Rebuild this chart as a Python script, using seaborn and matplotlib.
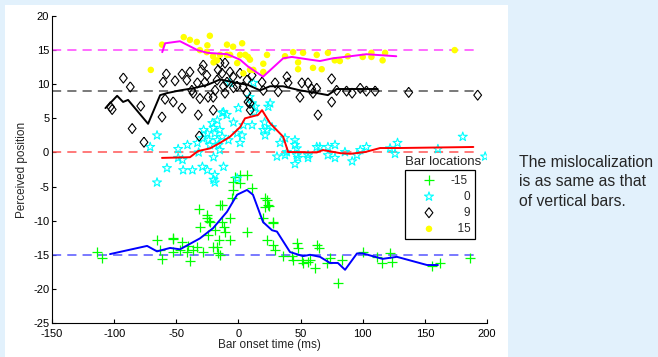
import matplotlib
matplotlib.use("Agg")
import matplotlib.pyplot as plt
import seaborn as sns
import pandas as pd
from matplotlib.patches import Rectangle

# ---------------- data ----------------
bar_locations = [-15, 0, 9, 15]
bar_labels = ["-15", "0", "9", "15"]
dash_range = [-150, 190]

g_x = [-114, -110, -65.5, -61.5, -63, -52.6, -52.6, -45, -47, -40.5,
       -39, -41, -36.5, -33, -31.5, -31, -28.5, -25.5, -24.5, -23,
       -20.4, -19, -16.3, -15, -16, -13, -12, -11, -6.7, -6.7,
       -4, -4, -5, 1.3, 6.8,
       -53, -25, -24, -17.5, -15, -13, 1.3, 6.9, -2.7,
       23, 24, 28, 23, 28, 29.5,
       11, 21.5, 21.5, 25, 20, 28, 36, 44, 43, 47,
       48, 51, 52, 56, 57.6, 61.6, 63, 65, 73.7, 71,
       83, 80, 100, 111.5, 115.5, 122, 123.5, 155.7, 162, 186]
g_y = [-14.6, -15.5, -12.8, -15.6, -14.3, -12.7, -14.6, -13.1, -14.3, -13.7,
       -15.9, -14.6, -14.3, -13.8, -8.3, -10.9, -14.6, -9.6, -12.1, -10.2,
       -13.8, -11.4, -14.8, -7.7, -12.9, -10.2, -10.9, -11.7, -12.9, -9.6,
       -4.4, -5.5, -6.7, -4.5, -11.7,
       -12.6, -9.2, -10.0, -13.8, -15.0, -7.7, -3.3, -3.3, -3.6,
       -7.0, -7.7, -10.2, -12.9, -13.6, -14.3,
       -5.2, -6.7, -8.0, -7.9, -9.6, -10.4, -15.2, -15.8, -15.2, -13.3,
       -14.0, -15.8, -16.2, -16.0, -15.8, -17.0, -13.6, -14.0, -15.5, -16.2,
       -15.8, -19.2, -14.6, -15.3, -16.2, -14.8, -16.0, -16.7, -16.2, -15.5]

c_x = [-45, -44.5, -37, -41, -33, -32, -29, -25, -29, -28,
       -25, -24, -23, -21, -20, -19, -17, -16, -15, -20,
       -17, -15, -13, -12, -13, -20, -19, -12, -8, 0,
       -4, -1, 3, 1.3, 4, 11, 13, 23, 21, 25.5,
       24, 33.5, 37.5, 31, 39,
       -71, -65.5, -48.5, -9.4, -7, -48.5, -57.5, -65.5, -19, -1,
       12, 9, 13.5, 11, 20, 21.5, 27, 45.5, 45.5, 47,
       37.5, 47, 48, 45.5, 56, 56, 63, 65.5, 72, 77.7,
       72, 77.7, 85.7, 91.5, 95.3, 98, 103, 122, 126, 128,
       160.5, 180.5, 198.5]
c_y = [-1.1, -2.6, -2.6, 1.1, 1.4, 0.0, -2.1, -2.6, 2.1, 3.3,
       2.8, 1.8, 1.1, 4.3, 3.6, 2.8, 1.8, 1.1, 0.35, -0.7,
       4.7, 3.3, 5.8, 5.9, 2.3, -4.0, -3.3, -2.1, 1.8, 6.5,
       4.4, 2.8, 2.5, 1.4, 4.0, 7.2, 5.9, 3.3, 4.4, 7.2,
       6.7, 1.4, 2.1, -0.6, 0.05,
       0.8, 2.5, 0.5, 5.5, 10.2, -0.8, -2.3, -4.4, -4.4, -3.8,
       10.2, 8.1, 6.7, 4.0, 3.3, 2.5, 3.7, 1.8, 1.1, 0.6,
       -0.4, -0.4, -0.8, -1.7, -0.4, -0.8, 0.8, 0.8, 0.8, 1.1,
       -0.4, -0.8, 0.06, -1.3, -0.4, 0.35, 0.8, 0.6, -0.2, 1.4,
       0.5, 2.3, -0.6]

k_x = [-92.6, -87, -103, -101.6, -85.5, -78.6, -76, -61.5, -60.6, -58,
       -59, -52.5, -51, -45.4, -45.4, -41.5, -39, -37.5, -36.5, -33,
       -32.3, -31.5, -31, -29.6, -28.3, -25.4, -27, -24.4, -20.3, -20.3,
       -18.8, -17.2, -16.3, -14.8, -13.2, -12.1, -10.8, -9.2, -6.8, -4.3,
       -1.1, 1.3, 3.7, 6.9, 6.9, 7.7, -10.8, -4, 11, 19,
       20, 29.5, 32, 39, 40, 49.5, 51, 56, 59, 60,
       63, 64, 75, 75, 79, 87, 91.5, 98, 103, 110,
       137, 192.5, 9.3, 9.5]
k_y = [10.9, 9.6, 6.7, 6.3, 3.5, 6.8, 1.5, 5.2, 10.3, 11.5,
       7.8, 7.4, 10.5, 6.5, 11.5, 10.6, 11.8, 9.1, 8.7, 10.2,
       5.5, 2.4, 7.9, 12.1, 12.8, 11.3, 10.3, 8.1, 6.2, 8.1,
       9.1, 10.6, 12.1, 13.1, 11.6, 9.7, 8.7, 10.3, 11.8, 11.1,
       9.7, 11.6, 9.6, 10.6, 8.7, 7.4, 13.1, 9.5, 11.3, 10.3,
       9.1, 10.2, 8.9, 11.1, 10.2, 8.1, 10.2, 10.2, 9.3, 8.7,
       9.4, 5.5, 10.8, 7.4, 9.1, 9.0, 8.7, 9.4, 9.0, 9.0,
       8.8, 8.4, 7.2, 6.2]

y_x = [-61.5, -70.5, -44, -39, -33.5, -23, -31, -25.5, -20.4, -14.8,
       -9.2, -6.7, -4.3, 3, -1, -17.2, -20, 7.7, 4, -25,
       -9.2, 1.3, 5.5, 9.3, 12, 20, 23, 20, 37.5, 44,
       48, 48, 52, 60, 67, 63, 72, 77.5, 81.6, 88,
       100, 107, 107, 116, 118, 174, 9.3]
y_y = [15.8, 12.1, 16.9, 16.5, 16.2, 17.1, 15.0, 14.7, 14.1, 14.3,
       15.8, 14.3, 15.5, 16.0, 13.1, 13.5, 13.2, 14.0, 11.6, 15.7,
       14.3, 14.3, 14.3, 13.6, 12.1, 11.8, 14.3, 13.0, 14.1, 14.7,
       13.2, 12.2, 14.6, 12.4, 12.2, 14.3, 14.6, 13.5, 13.4, 14.1,
       14.0, 14.6, 14.0, 13.5, 14.6, 15.0, 12.1]

mag_x = [-61.3, -59, -47, -33, -25, -9, 1.3, 7.7, 19.8, 36, 43, 57.6, 65.6, 76, 90, 103, 127]
mag_y = [14.7, 16.0, 16.3, 15.0, 14.6, 14.4, 13.6, 12.6, 11.1, 13.8, 14.0, 13.6, 13.4, 13.8, 14.1, 14.4, 14.1]

blk_x = [-107, -97.6, -92.8, -88.8, -72.7, -63, -57.4, -47, -36.5, -25, -14.8, -4.3,
         7.7, 17.4, 25.4, 35.9, 49.6, 63.3, 72, 79, 90, 112]
blk_y = [6.5, 8.3, 7.4, 7.7, 4.2, 8.4, 8.7, 9.1, 9.4, 9.9, 10.7, 10.3,
         9.9, 9.1, 9.7, 9.7, 9.1, 8.7, 8.4, 9.3, 9.3, 9.3]

red_x = [-61.5, -39, -32.5, -22.8, -14.8, -6.8, 1.3, 5.3, 15.8, 19, 25.4, 36, 40,
         63, 68, 81.7, 90, 102, 114, 130, 189]
red_y = [-0.8, -0.7, 0.2, 0.6, 1.4, 2.3, 3.7, 5.0, 5.5, 6.2, 4.3, 2.3, 0.06,
         0.0, 0.35, -0.1, -0.2, 0.06, 0.65, 0.65, 0.8]

blu_x = [-103.3, -73.5, -65.5, -55, -47, -39, -31, -20.4, -9.2, -1.1, 6.9, 11.7, 19.8, 27,
         31, 41.5, 52, 57.6, 65.6, 73.7, 80, 85.8, 95.4, 100, 116, 127.5, 151.7, 160.5]
blu_y = [-14.9, -13.7, -14.5, -14.0, -14.2, -13.4, -12.6, -11.1, -8.7, -6.2, -5.5, -6.2, -10.2, -11.4,
         -11.6, -14.6, -15.2, -15.0, -15.3, -16.2, -16.2, -17.2, -14.8, -14.8, -15.6, -15.3, -16.5, -16.5]

x_ticks = [-150, -100, -50, 0, 50, 100, 150, 200]
y_ticks = [-25, -20, -15, -10, -5, 0, 5, 10, 15, 20]
side_note = "The mislocalization\nis as same as that\nof vertical bars."

# ---------------- style ----------------
sns.set_style("ticks")
plt.rcParams["font.family"] = ["Liberation Sans", "DejaVu Sans"]
plt.rcParams["axes.unicode_minus"] = False

BG = "#E2F1FC"
fig = plt.figure(figsize=(6.58, 3.57), dpi=100, facecolor=BG)
panel = Rectangle((5 / 658, 0), (508 - 5) / 658, (357 - 5) / 357,
                  transform=fig.transFigure, facecolor="white",
                  edgecolor="none", zorder=-10)
fig.patches.append(panel)
ax = fig.add_axes([52 / 658, 1 - 323 / 357, (487 - 52) / 658, (323 - 16) / 357])
ax.set_zorder(1)
ax.patch.set_alpha(0)

dash_colors = ["#5555FF", "#FF5555", "#555555", "#FF44FF"]
for loc, col in zip(bar_locations, dash_colors):
    ax.hlines(loc, dash_range[0], dash_range[1], colors=col, linestyles=(0, (6, 4)),
              linewidth=1.1, zorder=1)

tall_diamond = [(0, 1), (0.78, 0), (0, -1), (-0.78, 0), (0, 1)]

sns.scatterplot(x=g_x, y=g_y, ax=ax, marker="+", s=50, color="#00FF00", linewidth=0.9,
                label=bar_labels[0], zorder=3)
sns.scatterplot(x=c_x, y=c_y, ax=ax, marker="*", s=46, facecolor="none",
                edgecolor="#00FFFF", linewidth=0.8, label=bar_labels[1], zorder=3)
sns.scatterplot(x=k_x, y=k_y, ax=ax, marker=tall_diamond, s=52, facecolor="none",
                edgecolor="black", linewidth=0.8, label=bar_labels[2], zorder=3)
sns.scatterplot(x=y_x, y=y_y, ax=ax, marker="o", s=22, color="#FFFF00",
                edgecolor="none", label=bar_labels[3], zorder=3)

for lx, ly, col in [(blu_x, blu_y, "#0000FF"), (red_x, red_y, "#FF0000"),
                    (blk_x, blk_y, "black"), (mag_x, mag_y, "#FF00FF")]:
    sns.lineplot(x=lx, y=ly, ax=ax, sort=False, estimator=None, color=col,
                 linewidth=1.4, zorder=4, legend=False)

ax.set_xlim(-150, 200)
ax.set_ylim(-25, 20)
ax.set_xticks(x_ticks)
ax.set_yticks(y_ticks)
ax.tick_params(direction="in", length=3, width=0.8, labelsize=8, colors="black", pad=2)
ax.tick_params(axis="x", pad=4)
for s in ["top", "right"]:
    ax.spines[s].set_visible(False)
for s in ["left", "bottom"]:
    ax.spines[s].set_linewidth(0.8)
    ax.spines[s].set_color("black")
ax.set_xlabel("Bar onset time (ms)", fontsize=8.5, labelpad=0)
ax.set_ylabel("Perceived position", fontsize=8.5, labelpad=4)

pad = "\u2007"
labels_padded = [pad * (3 - len(t)) + t for t in bar_labels]
handles, _ = ax.get_legend_handles_labels()
leg = ax.legend(handles, labels_padded, loc="upper left", bbox_to_anchor=(0.811, 0.497),
                frameon=True, fancybox=False, framealpha=1, edgecolor="black",
                fontsize=8.5, handletextpad=0.15, labelspacing=0.35, borderpad=0.35,
                handlelength=3.4, borderaxespad=0)
leg.get_frame().set_linewidth(0.9)
for t in leg.get_texts():
    t.set_fontfamily(["Liberation Sans", "DejaVu Sans"])
ax.text(0.899, 0.505, "Bar locations", transform=ax.transAxes, ha="center", va="bottom",
        fontsize=9.5)

fig.text(519 / 658, 1 - 182 / 357, side_note, ha="left", va="center", fontsize=11.3,
         linespacing=1.38)

fig.savefig("out.png", dpi=100, facecolor=BG)
